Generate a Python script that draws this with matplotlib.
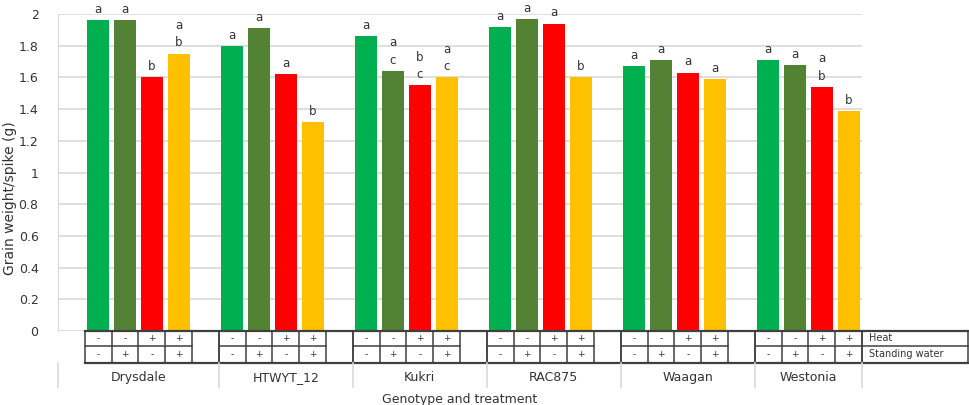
import numpy as np
import matplotlib.pyplot as plt
import matplotlib.transforms as mtransforms

genotypes = ["Drysdale", "HTWYT_12", "Kukri", "RAC875", "Waagan", "Westonia"]
treatments = ["control", "water", "heat", "heat_water"]
control = [1.96, 1.80, 1.86, 1.92, 1.67, 1.71]
water = [1.96, 1.91, 1.64, 1.97, 1.71, 1.68]
heat = [1.60, 1.62, 1.55, 1.94, 1.63, 1.54]
heat_water = [1.75, 1.32, 1.60, 1.60, 1.59, 1.39]
letters = [
    ["a", "a", "a", "a", "a", "a"],
    ["a", "a", "a\nc", "a", "a", "a"],
    ["b", "a", "b\nc", "a", "a", "a\nb"],
    ["a\nb", "b", "a\nc", "b", "a", "b"],
]
heat_signs = ["-", "-", "+", "+"]
water_signs = ["-", "+", "-", "+"]
colors = ["#00B050", "#548235", "#FF0000", "#FFC000"]
yticks = [0, 0.2, 0.4, 0.6, 0.8, 1, 1.2, 1.4, 1.6, 1.8, 2]

values = [control, water, heat, heat_water]
n_slots = 5 * len(genotypes)

plt.rcParams["font.family"] = "DejaVu Sans"
fig = plt.figure(figsize=(9.69, 4.05), dpi=100)
ax = fig.add_axes([58 / 969, 1 - 331 / 405, 804 / 969, 317 / 405])

for k, vals in enumerate(values):
    xs = [5 * g + k + 1 for g in range(len(genotypes))]
    ax.bar(xs, vals, width=0.82, color=colors[k], zorder=2)
    for x, v, lab in zip(xs, vals, letters[k]):
        ax.annotate(lab, (x, v), xytext=(0, 3), textcoords="offset points",
                    ha="center", va="bottom", fontsize=8.5, color="#333333",
                    linespacing=1.45)

ax.set_xlim(-0.5, n_slots - 0.5)
ax.set_ylim(0, 2)
ax.set_yticks(yticks)
ax.set_yticklabels([f"{t:g}" for t in yticks], fontsize=9, color="#333333")
ax.tick_params(axis="y", length=0, pad=14)
ax.set_xticks([])
ax.grid(axis="y", color="#d9d9d9", linewidth=1.2, zorder=0)
for s in ["top", "right", "bottom"]:
    ax.spines[s].set_visible(False)
ax.spines["left"].set_color("#d9d9d9")
ax.set_ylabel("Grain weight/spike (g)", fontsize=10, color="#333333")
ax.yaxis.set_label_coords(-0.051, 0.42)

# table below the axis
tr = mtransforms.blended_transform_factory(ax.transData, ax.transAxes)
y0, y1, y2, y3 = 0.0, -0.047, -0.101, -0.177
line_kw = dict(color="#404040", transform=tr, clip_on=False, lw=1.1)
x_left = 0.5
x_end = n_slots - 0.5
x_lab = x_end + 106 / 26.8

ax.plot([x_left, x_lab], [y0, y0], lw=1.6, color="#404040", transform=tr, clip_on=False)
ax.plot([x_left, x_lab], [y2, y2], lw=1.6, color="#404040", transform=tr, clip_on=False)
for g in range(len(genotypes)):
    start = 5 * g + 0.5
    ax.plot([start, start + 4], [y1, y1], **line_kw)
    for j in range(6):
        xv = start + j
        if j == 5 and g == len(genotypes) - 1:
            continue
        ax.plot([xv, xv], [y0, y2], **line_kw)
    for k in range(4):
        ax.text(start + k + 0.5, (y0 + y1) / 2, heat_signs[k], transform=tr,
                ha="center", va="center", fontsize=6.5, color="#333333")
        ax.text(start + k + 0.5, (y1 + y2) / 2, water_signs[k], transform=tr,
                ha="center", va="center", fontsize=6.5, color="#333333")
ax.plot([x_end, x_lab], [y1, y1], **line_kw)
ax.plot([x_lab, x_lab], [y0, y2], **line_kw)
ax.plot([x_end, x_end], [y0, y2], **line_kw)
ax.text(x_end + 0.25, (y0 + y1) / 2, "Heat", transform=tr, ha="left",
        va="center", fontsize=7, color="#333333")
ax.text(x_end + 0.25, (y1 + y2) / 2, "Standing water", transform=tr, ha="left",
        va="center", fontsize=7, color="#333333")

# genotype labels row
bounds = [-0.5] + [5 * g + 5.5 for g in range(len(genotypes) - 1)] + [x_end]
for xv in bounds:
    ax.plot([xv, xv], [y2, y3], color="#d9d9d9", lw=1.2, transform=tr, clip_on=False)
for g, name in enumerate(genotypes):
    ax.text((bounds[g] + bounds[g + 1]) / 2, -0.148, name, transform=tr,
            ha="center", va="center", fontsize=9, color="#333333")

ax.text(0.5, -0.215, "Genotype and treatment", transform=ax.transAxes,
        ha="center", va="center", fontsize=9, color="#333333")

fig.savefig("out.png", dpi=100)
